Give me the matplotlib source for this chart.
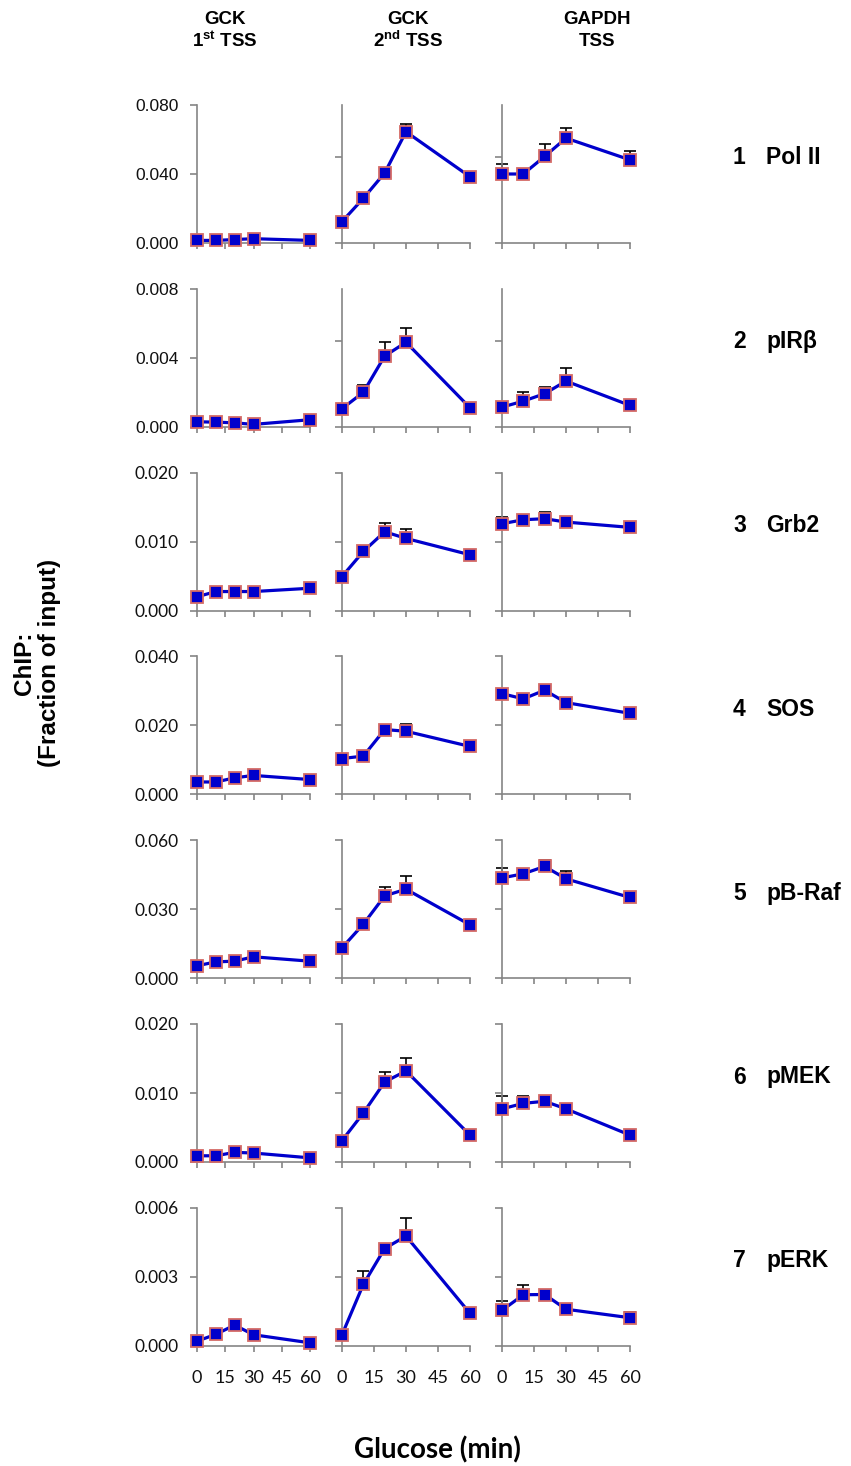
import numpy as np
import matplotlib
matplotlib.use('Agg')
import matplotlib.pyplot as plt

plt.rcParams['mathtext.fontset'] = 'custom'
plt.rcParams['mathtext.rm'] = 'Liberation Sans'
plt.rcParams['mathtext.bf'] = 'Liberation Sans:bold'

# Glukoosin aika (min)
times = [0, 10, 20, 30, 60]
xticks = [0, 15, 30, 45, 60]

col_title_top = ['GCK', 'GCK', 'GAPDH']
col_title_bottom = ['$\\mathbf{1^{st}}$ TSS', '$\\mathbf{2^{nd}}$ TSS', 'TSS']
row_numbers = ['1', '2', '3', '4', '5', '6', '7']
row_names = ['Pol II', 'pIRβ', 'Grb2', 'SOS', 'pB-Raf', 'pMEK', 'pERK']
row_ymax = [0.08, 0.008, 0.02, 0.04, 0.06, 0.02, 0.006]

# arvot: [GCK 1st TSS, GCK 2nd TSS, GAPDH TSS]
pol2 = [[0.0015, 0.0015, 0.002, 0.0025, 0.0015],
        [0.0124, 0.0259, 0.0406, 0.0645, 0.0384],
        [0.040, 0.040, 0.0502, 0.0608, 0.0482]]
pol2_err = [[0, 0, 0, 0, 0],
            [0.0005, 0.001, 0.001, 0.0047, 0.001],
            [0.006, 0.002, 0.007, 0.0057, 0.005]]

pirb = [[0.00029, 0.00027, 0.00023, 0.00014, 0.00041],
        [0.00105, 0.0020, 0.0041, 0.0049, 0.0011],
        [0.00114, 0.00149, 0.00192, 0.00265, 0.00124]]
pirb_err = [[0, 0, 0, 0, 0],
            [0.0001, 0.00045, 0.00083, 0.00085, 0.0001],
            [0.0001, 0.0005, 0.00037, 0.00074, 0.0001]]

grb2 = [[0.0020, 0.00276, 0.00276, 0.00276, 0.00324],
        [0.00494, 0.00857, 0.01143, 0.01046, 0.00809],
        [0.01259, 0.01317, 0.01332, 0.01283, 0.01206]]
grb2_err = [[0, 0, 0, 0, 0],
            [0.0002, 0.0003, 0.0013, 0.0014, 0.0003],
            [0.001, 0.0006, 0.0009, 0.0003, 0.0003]]

sos = [[0.0036, 0.0036, 0.0048, 0.0055, 0.0043],
       [0.0104, 0.0111, 0.0188, 0.0183, 0.0139],
       [0.0292, 0.0277, 0.0302, 0.0266, 0.0235]]
sos_err = [[0, 0, 0, 0, 0],
           [0.0005, 0.0005, 0.0005, 0.0022, 0.0005],
           [0.0005, 0.0005, 0.0005, 0.0005, 0.0005]]

pbraf = [[0.0054, 0.0071, 0.0074, 0.0093, 0.0074],
         [0.0132, 0.0235, 0.0358, 0.0387, 0.0232],
         [0.0436, 0.0454, 0.0486, 0.0432, 0.0351]]
pbraf_err = [[0, 0, 0, 0, 0],
             [0.0005, 0.001, 0.0038, 0.0057, 0.0005],
             [0.0041, 0.001, 0.0028, 0.0033, 0.0005]]

pmek = [[0.0009, 0.0009, 0.0014, 0.0013, 0.0006],
        [0.0031, 0.0071, 0.0116, 0.0132, 0.0039],
        [0.0077, 0.0085, 0.0088, 0.0077, 0.0039]]
pmek_err = [[0, 0, 0, 0, 0],
            [0.0003, 0.0003, 0.0015, 0.0019, 0.0008],
            [0.0019, 0.001, 0.0005, 0.0003, 0.0002]]

perk = [[0.0002, 0.0005, 0.0009, 0.00048, 0.00013],
        [0.00048, 0.00267, 0.00423, 0.00477, 0.00141],
        [0.00154, 0.00222, 0.00223, 0.00159, 0.00122]]
perk_err = [[0, 0, 0, 0, 0],
            [0.0001, 0.00057, 0.0001, 0.00077, 0.0001],
            [0.00042, 0.00043, 0.0001, 0.0001, 0.00026]]

rows = [pol2, pirb, grb2, sos, pbraf, pmek, perk]
rows_err = [pol2_err, pirb_err, grb2_err, sos_err, pbraf_err, pmek_err, perk_err]

W, H = 851, 1466
fig = plt.figure(figsize=(W / 100, H / 100), dpi=100)

col_left = [197, 342, 502]
col_width = [113, 128, 128]
row_top0 = 105
row_step = 183.8
panel_h = 138

line_c = '#0000CC'
edge_c = '#D46A66'
spine_c = '#858585'

for i in range(7):
    top = row_top0 + i * row_step
    ymax = row_ymax[i]
    for j in range(3):
        ax = fig.add_axes([col_left[j] / W, 1 - (top + panel_h) / H,
                           col_width[j] / W, panel_h / H])
        y = rows[i][j]
        err = rows_err[i][j]
        ax.errorbar(times, y, yerr=[np.zeros(5), err], fmt='none', ecolor='black',
                    elinewidth=1.2, capsize=4, capthick=1.2, zorder=2, clip_on=False)
        ax.plot(times, y, '-s', color=line_c, lw=2.3, ms=8.5, mfc=line_c,
                mec=edge_c, mew=1.3, zorder=3, clip_on=False)
        ax.set_xlim(0, 60)
        ax.set_ylim(0, ymax)
        for s in ['top', 'right']:
            ax.spines[s].set_visible(False)
        for s in ['left', 'bottom']:
            ax.spines[s].set_color(spine_c)
            ax.spines[s].set_linewidth(1.2)
        ax.set_xticks(xticks)
        if j == 0:
            ax.set_yticks([0, ymax / 2, ymax])
            ax.set_yticklabels(['%.3f' % v for v in [0, ymax / 2, ymax]])
        elif i < 2:
            ax.set_yticks([0, ymax * 0.625])
            ax.set_yticklabels([])
        else:
            ax.set_yticks([0, ymax / 2, ymax])
            ax.set_yticklabels([])
        yfont = 'Liberation Sans' if i < 2 else 'Lato'
        ax.tick_params(axis='y', direction='out', length=5, width=1.2, color=spine_c,
                       pad=8, labelsize=12.5, labelcolor='#111111')
        for lab in ax.get_yticklabels():
            lab.set_fontfamily(yfont)
        ax.tick_params(axis='x', direction='out', length=4.5, width=1.2, color=spine_c,
                       pad=13, labelsize=13, labelcolor='#111111')
        if i == 6:
            ax.set_xticklabels([str(v) for v in xticks], fontfamily='Lato')
        else:
            ax.set_xticklabels([])
        ax.patch.set_alpha(0)

    ylab = 1 - (top + 53) / H
    fig.text(733 / W, ylab, row_numbers[i], ha='left', va='center',
             fontsize=16.5, fontweight='bold', family='Liberation Sans')
    fig.text(766 / W, ylab, row_names[i], ha='left', va='center',
             fontsize=16.5, fontweight='bold', family='Liberation Sans')

# Sarakkeiden otsikot
col_centers = [225, 408, 597]
for j in range(3):
    fig.text(col_centers[j] / W, 1 - 19 / H, col_title_top[j], ha='center',
             va='center', fontsize=13.5, fontweight='bold', family='Liberation Sans')
    fig.text(col_centers[j] / W, 1 - 41 / H, col_title_bottom[j], ha='center',
             va='center', fontsize=13.5, fontweight='bold', family='Liberation Sans')

fig.text(37 / W, 1 - 663 / H, 'ChIP:\n(Fraction of input)', rotation=90,
         ha='center', va='center', fontsize=17.5, fontweight='bold',
         family='Liberation Sans', linespacing=1.15)

fig.text(437 / W, 1 - 1450 / H, 'Glucose (min)', ha='center', va='center',
         fontsize=20, fontweight='bold', family='Lato')

fig.savefig('out.png', dpi=100)
